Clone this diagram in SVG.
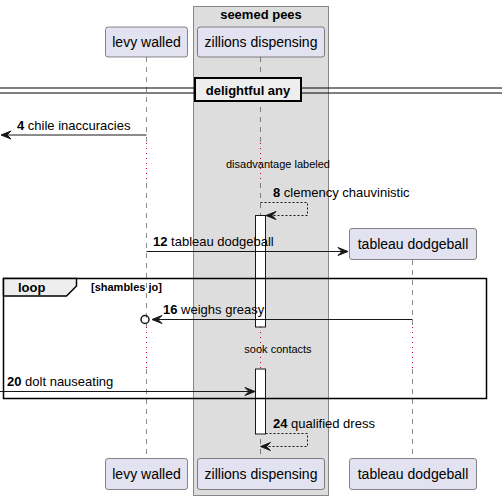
<svg xmlns="http://www.w3.org/2000/svg" width="502" height="500" viewBox="0 0 502 500">
<style>
text{font-family:"Liberation Sans",Arial,sans-serif;fill:#000}
.p rect{fill:#E2E2F0;stroke:#181818;stroke-width:0.5}
.p text{font-size:14px;text-anchor:middle}
.life{stroke:#181818;stroke-width:0.5;stroke-dasharray:5 5;fill:none}
.dly{stroke:#C0004A;stroke-width:1;stroke-dasharray:1 4;fill:none}
.msg{stroke:#181818;stroke-width:1;fill:none}
.dash{stroke:#181818;stroke-width:1;fill:none;stroke-dasharray:2 2}
.ah{fill:#181818;stroke:#181818;stroke-width:1}
.m{font-size:13px}
.b{font-weight:bold}
.act{fill:#FFFFFF;stroke:#181818;stroke-width:1}
</style>
<g id="box-seemed-pees">
<rect x="193.5" y="6.5" width="135" height="489" fill="#DDDDDD" stroke="#888888" stroke-width="1"/>
<text x="261" y="19" font-size="13" font-weight="bold" text-anchor="middle">seemed pees</text>
</g>
<g id="lifelines">
<path class="life" d="M146.5 57V143M146.5 183V327M146.5 369V458"/>
<path class="life" d="M260.5 57V143M260.5 183V327M260.5 369V458"/>
<path class="life" d="M412.5 260V327M412.5 369V458"/>
<path class="dly" d="M146.5 143V183M260.5 143V183"/>
<path class="dly" d="M146.5 327V369M260.5 327V369M412.5 327V369"/>
</g>
<g id="activations">
<rect class="act" x="255.5" y="215.5" width="10" height="111.5"/>
<rect class="act" x="255.5" y="369" width="10" height="65"/>
</g>
<g id="p-levy-walled" class="p">
<rect x="105.5" y="27" width="82" height="30" rx="2.5"/>
<text x="146.5" y="47">levy walled</text>
<rect x="105.5" y="458.5" width="82" height="31" rx="2.5"/>
<text x="146.5" y="479">levy walled</text>
</g>
<g id="p-zillions-dispensing" class="p">
<rect x="197.5" y="27" width="127" height="30" rx="2.5"/>
<text x="261" y="47">zillions dispensing</text>
<rect x="197.5" y="458.5" width="127" height="31" rx="2.5"/>
<text x="261" y="479">zillions dispensing</text>
</g>
<g id="p-tableau-dodgeball" class="p">
<rect x="349.5" y="228.5" width="127" height="31" rx="2.5"/>
<text x="413" y="249">tableau dodgeball</text>
<rect x="349.5" y="458.5" width="127" height="31" rx="2.5"/>
<text x="413" y="479">tableau dodgeball</text>
</g>
<g id="divider">
<line x1="0" y1="88" x2="502" y2="88" stroke="#000" stroke-width="1"/>
<line x1="0" y1="93" x2="502" y2="93" stroke="#000" stroke-width="1"/>
<rect x="195" y="78" width="106" height="23" fill="#EEEEEE" stroke="#000" stroke-width="2"/>
<text x="248" y="95" font-size="13" font-weight="bold" text-anchor="middle">delightful any</text>
</g>
<g id="delays">
<text x="278" y="168" font-size="11" text-anchor="middle">disadvantage labeled</text>
<text x="278" y="353" font-size="11" text-anchor="middle">sook contacts</text>
</g>
<g id="loop-frame">
<rect x="3.5" y="278.5" width="483" height="120" fill="none" stroke="#000" stroke-width="1.5"/>
<path d="M3.5 278.5H76.5V286L66.5 296H3.5Z" fill="#EEEEEE" stroke="#000" stroke-width="1.5"/>
<text x="18" y="292" font-size="13" font-weight="bold">loop</text>
<text x="91" y="291" font-size="11" font-weight="bold">[shambles jo]</text>
</g>
<g id="connectors">
<line class="msg" x1="146.5" y1="135" x2="2" y2="135"/>
<path class="ah" d="M1 135L11 131L7 135L11 139Z"/>
<text class="m" x="17" y="130"><tspan class="b">4</tspan> chile inaccuracies</text>

<path class="dash" d="M260.5 202.5H307.5V215.5H266.5"/>
<path class="ah" d="M266 215.5L276 211.5L272 215.5L276 219.5Z"/>
<text class="m" x="273" y="197"><tspan class="b">8</tspan> clemency chauvinistic</text>

<line class="msg" x1="146.5" y1="251.5" x2="347" y2="251.5"/>
<path class="ah" d="M348 251.5L338 247.5L342 251.5L338 255.5Z"/>
<text class="m" x="153" y="246"><tspan class="b">12</tspan> tableau dodgeball</text>

<line class="msg" x1="412.5" y1="319.5" x2="153" y2="319.5"/>
<path class="ah" d="M152 319.5L162 315.5L158 319.5L162 323.5Z"/>
<circle cx="145" cy="319.5" r="4" fill="none" stroke="#181818" stroke-width="1.5"/>
<text class="m" x="163" y="314"><tspan class="b">16</tspan> weighs greasy</text>

<line class="msg" x1="0" y1="391.5" x2="254" y2="391.5"/>
<path class="ah" d="M255 391.5L245 387.5L249 391.5L245 395.5Z"/>
<text class="m" x="7" y="386"><tspan class="b">20</tspan> dolt nauseating</text>

<path class="dash" d="M265.5 433.5H307.5V446.5H261.5"/>
<path class="ah" d="M260.5 446.5L270.5 442.5L266.5 446.5L270.5 450.5Z"/>
<text class="m" x="273" y="428"><tspan class="b">24</tspan> qualified dress</text>
</g>
</svg>
